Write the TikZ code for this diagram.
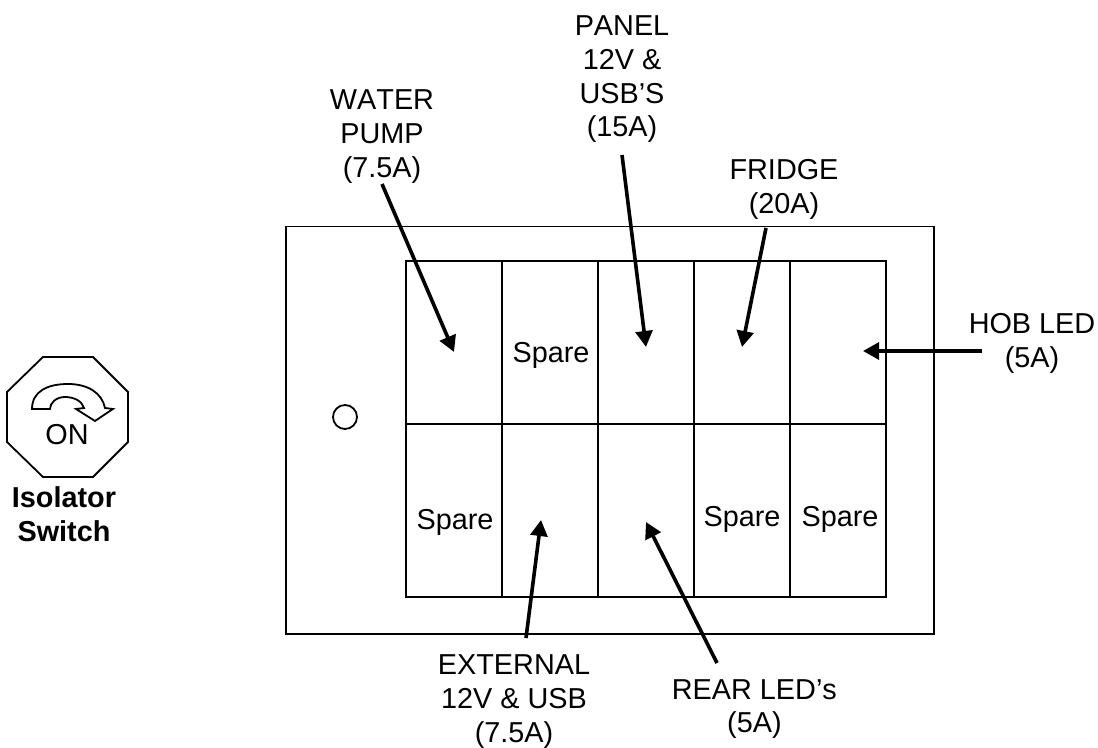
\documentclass[tikz,border=0pt]{standalone}
\usepackage{fontspec}
\setmainfont[Kerning=Off]{Liberation Sans}
\usetikzlibrary{arrows.meta}
\tikzset{
  panelline/.style={line width=0.045cm,black},
  label/.style={align=center,inner sep=0pt,font=\fontsize{20.5}{24}\selectfont},
  fuse/.style={-{Triangle[length=0.4cm,width=0.42cm]},line width=0.09cm,black}
}
\begin{document}
\begin{tikzpicture}
    \useasboundingbox (0,0) rectangle (27.45,18.675);

    % fuse box
    \draw[panelline](7.15,2.825) rectangle (23.34,13.01);
    \draw[panelline](10.15,3.75) rectangle (22.15,12.15);
    \draw[panelline](10.15,8.075)--(22.15,8.075);
    \foreach \xcell in {12.55,14.95,17.35,19.75}
        \draw[panelline](\xcell,3.75)--(\xcell,12.15);
    \draw[panelline](8.625,8.25) circle (0.3);

    % isolator switch
    \draw[panelline](1.075,9.75)--(2.325,9.75)--(3.2,8.875)--(3.2,7.625)--(2.325,6.75)--(1.075,6.75)--(0.175,7.625)--(0.175,8.875)--cycle;
    \draw[panelline](0.8,8.45) .. controls (0.8,8.9) and (1.2,9.075) .. (1.7,9.075)
        .. controls (2.2,9.075) and (2.55,8.85) .. (2.625,8.475)
        --(2.825,8.45)--(2.375,8.15)--(1.9,8.45)--(2.1,8.475)
        .. controls (2.05,8.65) and (1.85,8.75) .. (1.625,8.75)
        .. controls (1.4,8.75) and (1.25,8.6) .. (1.25,8.45)--cycle;
    \node[label] (onlbl) at (1.675,7.8) {ON};
    \node[label,font=\fontsize{20.5}{24}\selectfont\bfseries] (isolatorlbl) at (1.6,5.825) {Isolator\\Switch};

    % spare cells
    \node[label,anchor=base] (spareA) at (13.775,9.6) {Spare};
    \node[label,anchor=base] (spareB) at (11.375,5.425) {Spare};
    \node[label,anchor=base] (spareC) at (18.55,5.5) {Spare};
    \node[label,anchor=base] (spareD) at (21,5.5) {Spare};

    % labels
    \node[label] (pumplbl) at (9.55,15.26) {WATER\\PUMP\\(7.5A)};
    \node[label] (panellbl) at (15.55,16.69) {PANEL\\12V \&\\USB’S\\(15A)};
    \node[label] (fridgelbl) at (19.6,13.94) {FRIDGE\\(20A)};
    \node[label] (hoblbl) at (25.8,10.09) {HOB LED\\(5A)};
    \node[label] (externallbl) at (12.85,1.14) {EXTERNAL\\12V \& USB\\(7.5A)};
    \node[label] (rearlbl) at (18.86,0.95) {REAR LED’s\\(5A)};

    % arrow ends
    \coordinate (pumptail) at (9.55,14.075);
    \coordinate (pumptip) at (11.35,9.875);
    \coordinate (paneltail) at (15.55,14.8);
    \coordinate (paneltip) at (16.15,10);
    \coordinate (fridgetail) at (19.15,12.975);
    \coordinate (fridgetip) at (18.55,10);
    \coordinate (hobtail) at (24.55,9.9);
    \coordinate (hobtip) at (21.575,9.9);
    \coordinate (externaltail) at (13.15,2.725);
    \coordinate (externaltip) at (13.525,5.675);
    \coordinate (reartail) at (17.925,2.1);
    \coordinate (reartip) at (16.15,5.625);

    \draw[fuse](pumptail)--(pumptip);
    \draw[fuse](paneltail)--(paneltip);
    \draw[fuse](fridgetail)--(fridgetip);
    \draw[fuse](hobtail)--(hobtip);
    \draw[fuse](externaltail)--(externaltip);
    \draw[fuse](reartail)--(reartip);
\end{tikzpicture}
\end{document}
